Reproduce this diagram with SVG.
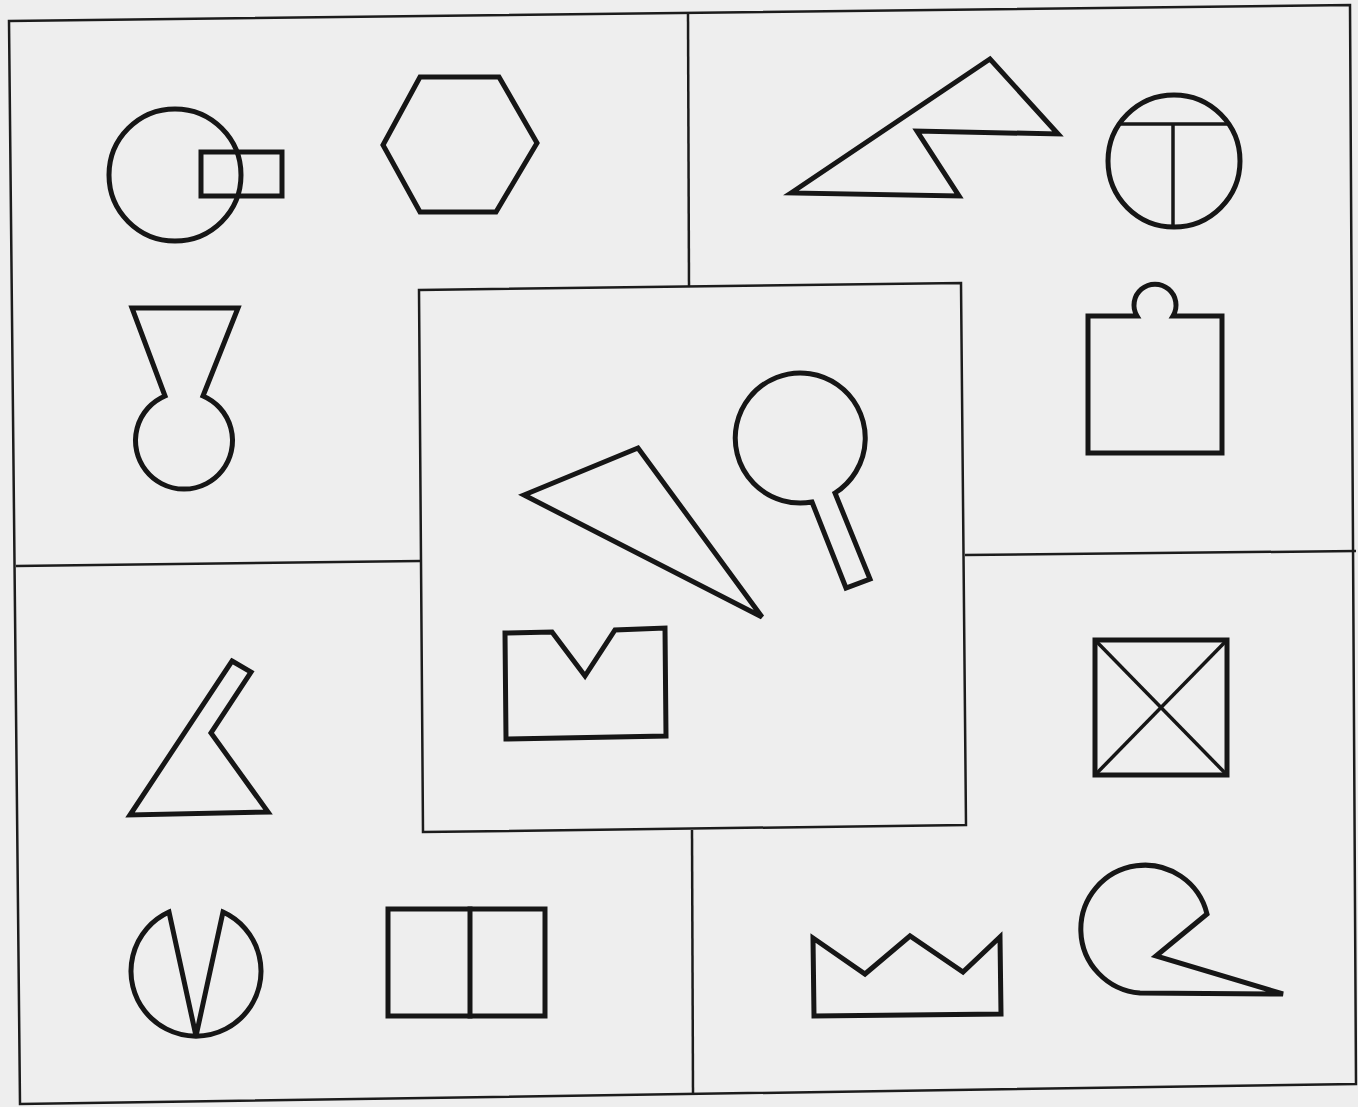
<svg xmlns="http://www.w3.org/2000/svg" width="1358" height="1107" viewBox="0 0 1358 1107">
<style>
.frame{fill:none;stroke:#1c1c1c;stroke-width:2.5;stroke-linejoin:miter}
.shape{fill:none;stroke:#161616;stroke-width:5;stroke-linejoin:miter;stroke-linecap:square}
.thin{fill:none;stroke:#161616;stroke-width:3.5}
</style>
<rect x="0" y="0" width="1358" height="1107" fill="#eeeeee"/>
<g id="frame">
<polygon class="frame" points="9,21 1350,5 1356,1084 20,1104"/>
<line class="frame" x1="688" y1="13" x2="689" y2="287"/>
<line class="frame" x1="16" y1="566" x2="420" y2="561"/>
<line class="frame" x1="965" y1="555" x2="1356" y2="551"/>
<line class="frame" x1="692" y1="830" x2="693" y2="1093"/>
<polygon class="frame" points="419,290 961,283 966,825 423,832" fill="#f0f0f0"/>
</g>
<g id="circle-rect">
<circle class="shape" cx="175" cy="175" r="66"/>
<rect class="shape" x="201" y="152" width="81" height="44"/>
</g>
<g id="hexagon">
<polygon class="shape" points="420,77 499,77 537,143 496,212 420,212 383,145"/>
</g>
<g id="vase">
<path class="shape" d="M132,308 L238,308 L203,396 A48.5,48.5 0 1 1 165,396 Z"/>
</g>
<g id="zigzag">
<polygon class="shape" points="791,193 990,59 1058,134 917,131 959,196"/>
</g>
<g id="circle-t">
<circle class="shape" cx="1174" cy="161" r="66"/>
<line class="thin" x1="1119" y1="124" x2="1229" y2="124"/>
<line class="thin" x1="1173" y1="124" x2="1173" y2="227"/>
</g>
<g id="knob-rect">
<path class="shape" d="M1088,316 L1137,316 A21,21 0 1 1 1173,316 L1222,316 L1222,453 L1088,453 Z"/>
</g>
<g id="center-triangle">
<polygon class="shape" points="524,495 638,448 762,617"/>
</g>
<g id="magnifier">
<path class="shape" d="M812,502 L846,588 L870,579 L835,493 A65,65 0 1 0 812,502 Z"/>
</g>
<g id="notched-rect">
<polygon class="shape" points="505,633 552,632 585,676 615,630 665,628 666,736 506,739"/>
</g>
<g id="flag-triangle">
<polygon class="shape" points="232,661 251,672 211,733 268,812 130,815"/>
</g>
<g id="v-circle">
<path class="shape" d="M169,912 L196,1036 L223,912 A65,65 0 1 1 169,912 Z"/>
</g>
<g id="split-rect">
<rect class="shape" x="388" y="909" width="157" height="107"/>
<line class="shape" x1="470" y1="909" x2="470" y2="1016"/>
</g>
<g id="x-box">
<rect class="shape" x="1095" y="640" width="132" height="135"/>
<line class="thin" x1="1095" y1="640" x2="1227" y2="775"/>
<line class="thin" x1="1227" y1="640" x2="1095" y2="775"/>
</g>
<g id="crown">
<polygon class="shape" points="814,1016 813,938 865,974 910,936 963,972 1000,937 1001,1014"/>
</g>
<g id="pacman">
<path class="shape" d="M1207,914 L1156,956 L1283,994 L1140,993 A64,64 0 1 1 1207,914 Z"/>
</g>
</svg>
